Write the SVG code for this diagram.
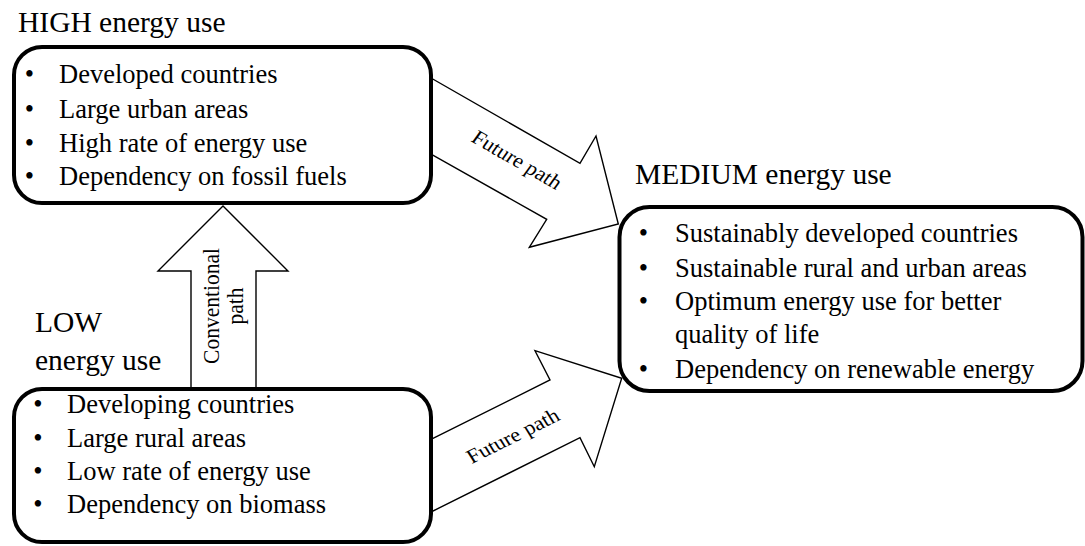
<svg xmlns="http://www.w3.org/2000/svg" width="1085" height="546" viewBox="0 0 1085 546">
<rect width="1085" height="546" fill="#fff"/>
<g id="connectors">
<g id="future-path-high">
<polygon fill="#fff" stroke="#000" stroke-width="1.4" points="431,78 580,163.3 596,136 618.3,224 529.3,247.3 546.7,219.3 431,154"/>
<text font-family="Liberation Serif" font-size="20" text-anchor="middle" transform="translate(517 160) scale(1.12 1) rotate(32.7) translate(0 6.5)">Future path</text>
</g>
<g id="future-path-low">
<polygon fill="#fff" stroke="#000" stroke-width="1.4" points="431,439.3 550,380 535,350.7 621.7,378.3 594.3,466.7 580,437.7 431,512"/>
<text font-family="Liberation Serif" font-size="20" text-anchor="middle" transform="translate(513 436) scale(1.12 1) rotate(-29.2) translate(0 6.5)">Future path</text>
</g>
<g id="conventional-path">
<polygon fill="#fff" stroke="#000" stroke-width="1.4" points="191,389 191,271 158,271 223,206 288,271 256,271 256,389"/>
<text font-family="Liberation Serif" font-size="21.5" text-anchor="middle" transform="translate(219 306) scale(1.12 1) rotate(-90)">Conventional</text>
<text font-family="Liberation Serif" font-size="21.5" text-anchor="middle" transform="translate(243 306) scale(1.12 1) rotate(-90)">path</text>
</g>
</g>
<g id="high">
<g font-size="29.5"><text font-family="Liberation Serif" x="18" y="32.3">HIGH energy use</text></g>
<rect fill="#fff" stroke="#000" stroke-width="4" x="14" y="47" width="417" height="156" rx="28" ry="28"/>
<g font-size="26.5">
<text font-family="Liberation Serif" x="29.5" y="83.3" text-anchor="middle">•</text>
<text font-family="Liberation Serif" x="59" y="83.3">Developed countries</text>
<text font-family="Liberation Serif" x="29.5" y="118" text-anchor="middle">•</text>
<text font-family="Liberation Serif" x="59" y="118">Large urban areas</text>
<text font-family="Liberation Serif" x="29.5" y="151.7" text-anchor="middle">•</text>
<text font-family="Liberation Serif" x="59" y="151.7">High rate of energy use</text>
<text font-family="Liberation Serif" x="29.5" y="184.5" text-anchor="middle">•</text>
<text font-family="Liberation Serif" x="59" y="184.5">Dependency on fossil fuels</text>
</g>
</g>
<g id="low">
<g font-size="29.5">
<text font-family="Liberation Serif" x="35" y="332">LOW</text>
<text font-family="Liberation Serif" x="35" y="370">energy use</text>
</g>
<rect fill="#fff" stroke="#000" stroke-width="4" x="14" y="389" width="417" height="153" rx="28" ry="28"/>
<g font-size="26.5">
<text font-family="Liberation Serif" x="38" y="413.3" text-anchor="middle">•</text>
<text font-family="Liberation Serif" x="67" y="413.3">Developing countries</text>
<text font-family="Liberation Serif" x="38" y="446.7" text-anchor="middle">•</text>
<text font-family="Liberation Serif" x="67" y="446.7">Large rural areas</text>
<text font-family="Liberation Serif" x="38" y="480" text-anchor="middle">•</text>
<text font-family="Liberation Serif" x="67" y="480">Low rate of energy use</text>
<text font-family="Liberation Serif" x="38" y="513.3" text-anchor="middle">•</text>
<text font-family="Liberation Serif" x="67" y="513.3">Dependency on biomass</text>
</g>
</g>
<g id="medium">
<g font-size="29.5"><text font-family="Liberation Serif" x="635" y="184.3">MEDIUM energy use</text></g>
<rect fill="#fff" stroke="#000" stroke-width="4" x="619.5" y="207" width="463" height="184" rx="30" ry="30"/>
<g font-size="26.5">
<text font-family="Liberation Serif" x="643.5" y="242.3" text-anchor="middle">•</text>
<text font-family="Liberation Serif" x="675" y="242.3">Sustainably developed countries</text>
<text font-family="Liberation Serif" x="643.5" y="276.7" text-anchor="middle">•</text>
<text font-family="Liberation Serif" x="675" y="276.7">Sustainable rural and urban areas</text>
<text font-family="Liberation Serif" x="643.5" y="310" text-anchor="middle">•</text>
<text font-family="Liberation Serif" x="675" y="310">Optimum energy use for better</text>
<text font-family="Liberation Serif" x="675" y="343.3">quality of life</text>
<text font-family="Liberation Serif" x="643.5" y="377.7" text-anchor="middle">•</text>
<text font-family="Liberation Serif" x="675" y="377.7">Dependency on renewable energy</text>
</g>
</g>
</svg>
